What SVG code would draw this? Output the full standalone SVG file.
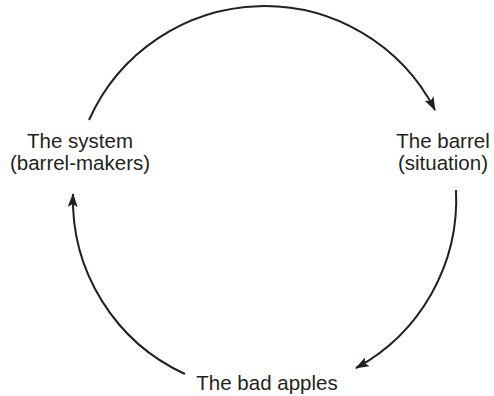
<svg xmlns="http://www.w3.org/2000/svg" width="494" height="396" viewBox="0 0 494 396">
<defs>
<style>
.lbl{font-family:"Liberation Sans",Arial,Helvetica,sans-serif;font-size:20.5px;fill:#231f20;text-anchor:middle}
.arc{fill:none;stroke:#231f20;stroke-width:2}
</style>
<marker id="ah" viewBox="0 0 14 10" refX="13" refY="5" markerWidth="14" markerHeight="10" markerUnits="userSpaceOnUse" orient="auto">
<path d="M0,0 L14,5 L0,10 L3,5 Z" fill="#231f20"/>
</marker>
</defs>
<rect width="494" height="396" fill="#fff"/>
<g id="connectors">
<path class="arc" d="M89,120 A192,192 0 0,1 435,110" marker-end="url(#ah)"/>
<path class="arc" d="M456,190 A192,192 0 0,1 356,368" marker-end="url(#ah)"/>
<path class="arc" d="M185,374 A192,192 0 0,1 73,194" marker-end="url(#ah)"/>
</g>
<g id="system">
<text class="lbl" x="80" y="148">The system</text>
<text class="lbl" x="80" y="170">(barrel-makers)</text>
</g>
<g id="barrel">
<text class="lbl" x="443" y="148">The barrel</text>
<text class="lbl" x="443" y="170">(situation)</text>
</g>
<g id="apples">
<text class="lbl" x="267" y="390">The bad apples</text>
</g>
</svg>
